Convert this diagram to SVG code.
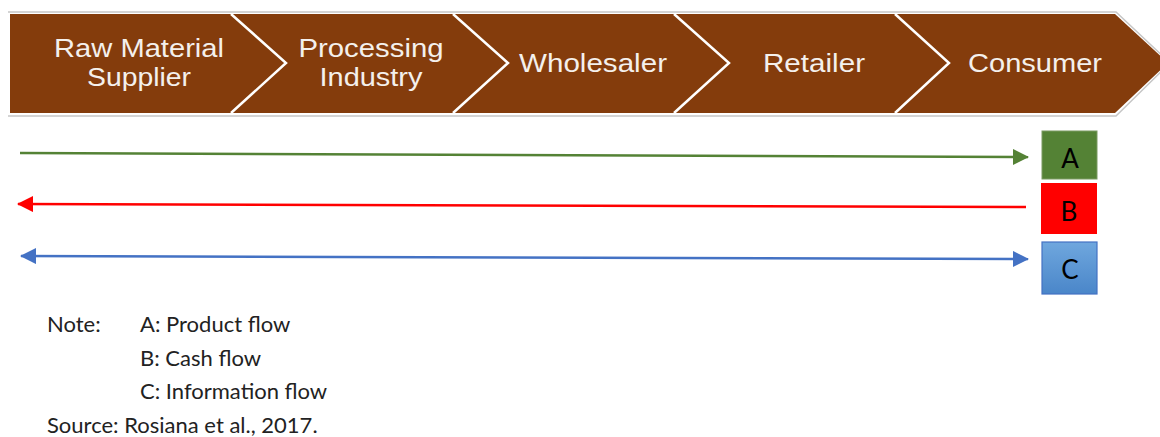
<svg xmlns="http://www.w3.org/2000/svg" width="1160" height="437" viewBox="0 0 1160 437">
<style>
.band{font-family:"Liberation Sans",Arial,sans-serif;font-size:25px;fill:#f4f0ec;text-anchor:middle}
.sep{fill:none;stroke:#ffffff;stroke-width:2.5}
.box{font-family:Lato,"Open Sans",sans-serif;font-size:26px;fill:#000000;text-anchor:middle}
.note{font-family:Lato,"Open Sans",sans-serif;font-size:22px;fill:#222222}
</style>
<defs>
<linearGradient id="gc" x1="0" y1="0" x2="0" y2="1">
<stop offset="0" stop-color="#6fa7de"/>
<stop offset="1" stop-color="#4a86c9"/>
</linearGradient>
<marker id="mg" markerWidth="16" markerHeight="16" refX="15" refY="8" orient="auto" markerUnits="userSpaceOnUse">
<path d="M0,0 L16,8 L0,16 Z" fill="#548235"/>
</marker>
<marker id="mr" markerWidth="16" markerHeight="16" refX="15" refY="8" orient="auto" markerUnits="userSpaceOnUse">
<path d="M0,0 L16,8 L0,16 Z" fill="#ff0000"/>
</marker>
<marker id="mb" markerWidth="16" markerHeight="16" refX="15" refY="8" orient="auto-start-reverse" markerUnits="userSpaceOnUse">
<path d="M0,0 L16,8 L0,16 Z" fill="#4472c4"/>
</marker>
</defs>
<rect width="1160" height="437" fill="#ffffff"/>

<g id="banner">
<polyline points="8,12 1116,12 1170,63 1116,116 8,116" fill="none" stroke="#c6c6c6" stroke-width="1.5"/>
<polygon points="10,14 1115,14 1168,63 1115,113 10,113" fill="#843c0c"/>
<polyline class="sep" points="231,14 286,63 231,113"/>
<polyline class="sep" points="453,14 508,63 453,113"/>
<polyline class="sep" points="674,14 729,63 674,113"/>
<polyline class="sep" points="895,14 949,63 895,113"/>
</g>
<g id="node-raw"><text class="band" x="139" y="57" textLength="170" lengthAdjust="spacingAndGlyphs">Raw Material</text><text class="band" x="139" y="86" textLength="104" lengthAdjust="spacingAndGlyphs">Supplier</text></g>
<g id="node-processing"><text class="band" x="371" y="57" textLength="145" lengthAdjust="spacingAndGlyphs">Processing</text><text class="band" x="371" y="86" textLength="103" lengthAdjust="spacingAndGlyphs">Industry</text></g>
<g id="node-wholesaler"><text class="band" x="593" y="72" textLength="148" lengthAdjust="spacingAndGlyphs">Wholesaler</text></g>
<g id="node-retailer"><text class="band" x="814" y="72" textLength="102" lengthAdjust="spacingAndGlyphs">Retailer</text></g>
<g id="node-consumer"><text class="band" x="1035" y="72" textLength="134" lengthAdjust="spacingAndGlyphs">Consumer</text></g>

<g id="connectors">
<line x1="20" y1="153" x2="1028" y2="157" stroke="#548235" stroke-width="2.5" marker-end="url(#mg)"/>
<line x1="1026" y1="207" x2="18" y2="204" stroke="#ff0000" stroke-width="2.5" marker-end="url(#mr)"/>
<line x1="21" y1="256" x2="1028" y2="259" stroke="#4472c4" stroke-width="2.5" marker-start="url(#mb)" marker-end="url(#mb)"/>
</g>

<g id="node-A"><rect x="1042" y="131" width="55" height="48" fill="#548235" stroke="#7a9a62" stroke-width="1"/><text class="box" x="1070" y="168">A</text></g>
<g id="node-B"><rect x="1041" y="183" width="56" height="51" fill="#ff0000"/><text class="box" x="1069" y="221">B</text></g>
<g id="node-C"><rect x="1042" y="242" width="55" height="52" fill="url(#gc)" stroke="#4472c4" stroke-width="1.2"/><text class="box" x="1070" y="279">C</text></g>

<g id="notes">
<text class="note" x="47" y="332">Note:</text>
<text class="note" x="140" y="332">A: Product flow</text>
<text class="note" x="140" y="366">B: Cash flow</text>
<text class="note" x="140" y="399">C: Information flow</text>
<text class="note" x="47" y="433">Source: Rosiana et al., 2017.</text>
</g>
</svg>
